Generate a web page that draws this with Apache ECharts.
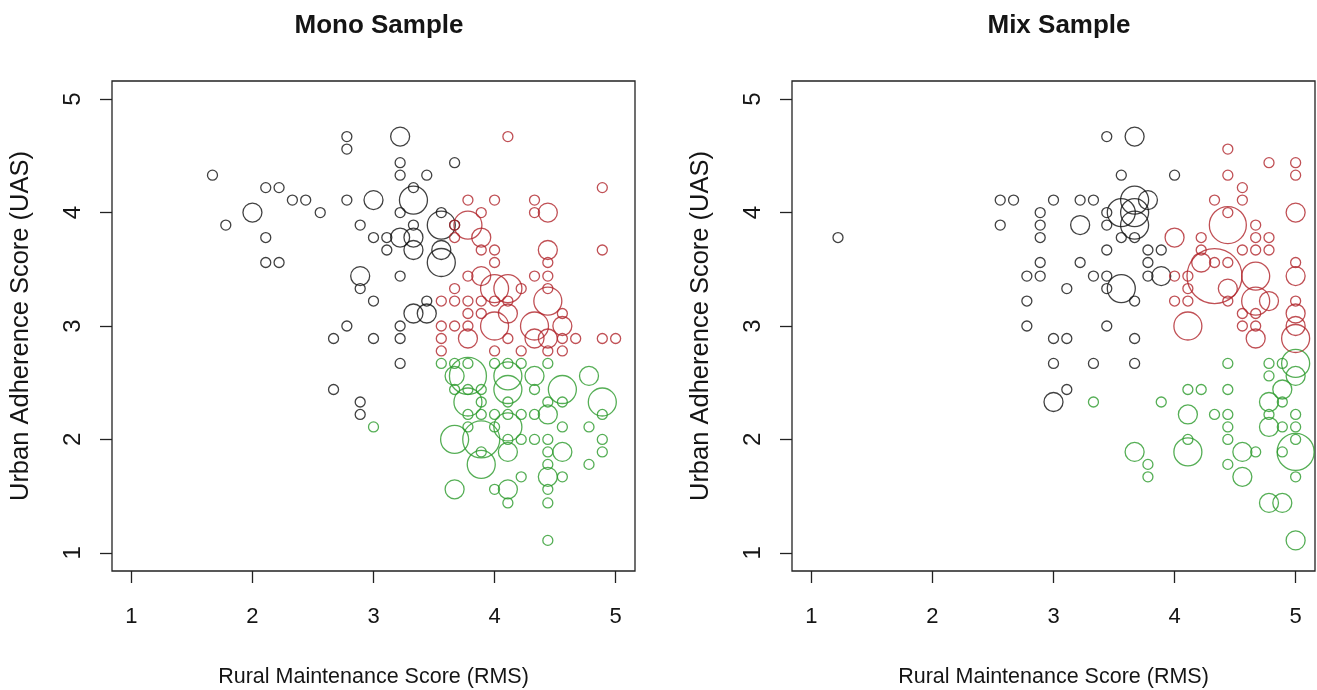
<!DOCTYPE html>
<html>
<head>
<meta charset="utf-8">
<title>Mono / Mix Sample</title>
<script src="https://cdn.jsdelivr.net/npm/echarts@6.0.0/dist/echarts.min.js"></script>
<style>
  html, body { margin: 0; padding: 0; background: #fff; }
  #chart { width: 1317px; height: 690px; }
</style>
</head>
<body>
<div id="chart"></div>
<script>
// point = [RMS, UAS, count]; count sets the circle size
const tickValues = [1, 2, 3, 4, 5];

const monoBlack = [
  [1.67,4.33,1],[1.78,3.89,1],[2.0,4.0,2],[2.11,4.22,1],[2.22,4.22,1],[2.11,3.78,1],
  [2.11,3.56,1],[2.22,3.56,1],[2.33,4.11,1],[2.44,4.11,1],[2.56,4.0,1],[2.78,4.67,1],
  [2.78,4.56,1],[2.78,4.11,1],[2.89,3.89,1],[3.0,4.11,2],[3.0,3.78,1],[2.89,3.44,2],
  [2.89,3.33,1],[3.0,3.22,1],[2.78,3.0,1],[2.67,2.89,1],[3.0,2.89,1],[2.67,2.44,1],
  [2.89,2.33,1],[2.89,2.22,1],[3.22,4.67,2],[3.22,4.44,1],[3.22,4.33,1],[3.44,4.33,1],
  [3.67,4.44,1],[3.33,4.11,3],[3.33,4.22,1],[3.22,4.0,1],[3.56,3.89,3],[3.56,4.0,1],
  [3.67,3.89,1],[3.22,3.78,2],[3.33,3.89,1],[3.33,3.78,2],[3.33,3.67,2],[3.11,3.78,1],
  [3.11,3.67,1],[3.56,3.56,3],[3.56,3.67,2],[3.22,3.44,1],[3.33,3.11,2],[3.44,3.11,2],
  [3.44,3.22,1],[3.22,3.0,1],[3.22,2.89,1],[3.22,2.67,1]
];
const monoRed = [
  [4.11,4.67,1],[4.89,4.22,1],[4.89,3.67,1],[3.78,4.11,1],[4.0,4.11,1],[4.33,4.11,1],
  [4.33,4.0,1],[4.44,4.0,2],[3.89,4.0,1],[3.78,3.89,3],[3.67,3.89,1],[3.67,3.78,1],
  [3.89,3.78,2],[3.89,3.67,1],[4.0,3.67,1],[4.0,3.56,1],[4.44,3.67,2],[4.44,3.56,1],
  [3.78,3.44,1],[3.89,3.44,2],[4.0,3.33,3],[4.11,3.33,3],[4.22,3.33,1],[4.33,3.44,1],
  [4.44,3.44,1],[4.44,3.33,1],[4.44,3.22,3],[3.67,3.33,1],[3.56,3.22,1],[3.67,3.22,1],
  [3.78,3.22,1],[3.89,3.22,1],[4.0,3.22,1],[4.11,3.22,1],[3.78,3.11,1],[3.89,3.11,1],
  [3.56,3.0,1],[3.67,3.0,1],[3.78,3.0,1],[4.0,3.0,3],[4.11,3.11,2],[4.33,3.0,3],
  [4.44,2.89,2],[4.56,3.0,2],[4.56,3.11,1],[3.56,2.89,1],[4.11,2.89,1],[4.67,2.89,1],
  [4.89,2.89,1],[5.0,2.89,1],[3.78,2.89,2],[4.33,2.89,2],[4.56,2.89,1],[3.56,2.78,1],
  [4.0,2.78,1],[4.22,2.78,1],[4.44,2.78,1],[4.56,2.78,1]
];
const monoGreen = [
  [3.0,2.11,1],[3.56,2.67,1],[3.67,2.67,1],[3.78,2.67,1],[4.0,2.67,1],[4.11,2.67,1],
  [4.22,2.67,1],[4.44,2.67,1],[3.78,2.56,4],[3.67,2.56,2],[3.67,2.44,1],[4.11,2.56,3],
  [4.11,2.44,3],[4.33,2.56,2],[4.33,2.44,1],[4.56,2.44,3],[4.78,2.56,2],[4.89,2.33,3],
  [4.89,2.22,1],[3.78,2.44,1],[3.89,2.44,1],[3.89,2.33,1],[4.11,2.33,1],[4.44,2.33,1],
  [4.56,2.33,1],[3.78,2.33,3],[3.78,2.22,1],[3.89,2.22,1],[4.0,2.22,1],[4.11,2.22,1],
  [4.22,2.22,1],[4.33,2.22,1],[4.44,2.22,2],[4.11,2.11,3],[3.67,2.0,3],[3.89,2.0,4],
  [3.78,2.11,1],[4.0,2.11,1],[4.56,2.11,1],[4.78,2.11,1],[4.11,2.0,1],[4.22,2.0,1],
  [4.33,2.0,1],[4.44,2.0,1],[4.89,2.0,1],[4.89,1.89,1],[3.89,1.89,1],[3.89,1.78,3],
  [4.11,1.89,2],[4.44,1.89,1],[4.56,1.89,2],[4.44,1.78,1],[4.78,1.78,1],[4.44,1.67,2],
  [4.22,1.67,1],[4.56,1.67,1],[3.67,1.56,2],[4.0,1.56,1],[4.11,1.56,2],[4.11,1.44,1],
  [4.44,1.56,1],[4.44,1.44,1],[4.44,1.11,1]
];

const mixBlack = [
  [1.22,3.78,1],[2.56,4.11,1],[2.67,4.11,1],[2.56,3.89,1],[2.89,4.0,1],[2.89,3.89,1],
  [2.89,3.78,1],[2.89,3.56,1],[2.89,3.44,1],[2.78,3.44,1],[2.78,3.22,1],[2.78,3.0,1],
  [3.0,4.11,1],[3.22,4.11,1],[3.33,4.11,1],[3.44,4.67,1],[3.67,4.67,2],[3.56,4.33,1],
  [4.0,4.33,1],[3.67,4.11,3],[3.78,4.11,2],[3.56,4.0,3],[3.67,3.89,3],[3.67,4.0,3],
  [3.44,4.0,1],[3.44,3.89,1],[3.56,3.78,1],[3.67,3.78,1],[3.22,3.89,2],[3.44,3.67,1],
  [3.78,3.67,1],[3.89,3.67,1],[3.78,3.56,1],[3.22,3.56,1],[3.33,3.44,1],[3.44,3.44,1],
  [3.56,3.33,3],[3.44,3.33,1],[3.67,3.22,1],[3.78,3.44,1],[3.89,3.44,2],[3.11,3.33,1],
  [3.44,3.0,1],[3.0,2.89,1],[3.11,2.89,1],[3.67,2.89,1],[3.0,2.67,1],[3.33,2.67,1],
  [3.67,2.67,1],[3.11,2.44,1],[3.0,2.33,2]
];
const mixRed = [
  [4.44,4.56,1],[4.78,4.44,1],[5.0,4.44,1],[5.0,4.33,1],[4.44,4.33,1],[4.56,4.22,1],
  [4.33,4.11,1],[4.56,4.11,1],[4.44,4.0,1],[4.44,3.89,4],[5.0,4.0,2],[4.67,3.89,1],
  [4.67,3.78,1],[4.78,3.78,1],[4.67,3.67,1],[4.78,3.67,1],[4.56,3.67,1],[4.0,3.78,2],
  [4.22,3.78,1],[4.22,3.67,1],[4.22,3.56,2],[4.33,3.56,1],[4.44,3.56,1],[4.33,3.44,6],
  [4.44,3.33,2],[4.67,3.44,3],[4.67,3.22,3],[4.78,3.22,2],[5.0,3.44,2],[5.0,3.56,1],
  [4.0,3.44,1],[4.11,3.44,1],[4.11,3.33,1],[4.11,3.22,1],[4.0,3.22,1],[4.44,3.22,1],
  [4.56,3.11,1],[4.67,3.11,1],[4.56,3.0,1],[4.67,3.0,1],[5.0,3.22,1],[5.0,3.11,2],
  [5.0,3.0,2],[4.11,3.0,3],[4.67,2.89,2],[5.0,2.89,3]
];
const mixGreen = [
  [3.33,2.33,1],[3.89,2.33,1],[4.44,2.67,1],[4.78,2.67,1],[4.89,2.67,1],[5.0,2.67,3],
  [5.0,2.56,2],[4.78,2.56,1],[4.89,2.44,2],[4.11,2.44,1],[4.22,2.44,1],[4.44,2.44,1],
  [4.78,2.33,2],[4.89,2.33,1],[4.11,2.22,2],[4.33,2.22,1],[4.44,2.22,1],[4.78,2.22,1],
  [4.78,2.11,2],[4.89,2.11,1],[5.0,2.22,1],[5.0,2.11,1],[4.44,2.11,1],[4.44,2.0,1],
  [5.0,2.0,1],[5.0,1.89,4],[4.89,1.89,1],[4.11,2.0,1],[4.11,1.89,3],[3.67,1.89,2],
  [3.78,1.78,1],[3.78,1.67,1],[4.56,1.89,2],[4.67,1.89,1],[4.44,1.78,1],[4.56,1.67,2],
  [5.0,1.67,1],[4.78,1.44,2],[4.89,1.44,2],[5.0,1.11,2]
];

const BLACK = "#111111", RED = "#b0242a", GREEN = "#2a9a2a";
const TXT = "#151515";
const axisFont = "'Liberation Sans', Arial, sans-serif";

const chart = echarts.init(document.getElementById("chart"), null, { renderer: "canvas" });

function xAxisOf(gridIndex) {
  return {
    gridIndex,
    type: "value",
    min: 0.84,
    max: 5.16,
    name: "Rural Maintenance Score (RMS)",
    nameLocation: "middle",
    nameGap: 95,
    nameTextStyle: { color: TXT, fontSize: 21.5, fontFamily: axisFont },
    axisLine: { show: false },
    axisTick: { show: true, inside: false, length: 12, customValues: tickValues,
      lineStyle: { color: "#222", width: 1.3 } },
    axisLabel: { customValues: tickValues, color: TXT, fontSize: 22, fontFamily: axisFont, margin: 35 },
    splitLine: { show: false },
  };
}

function yAxisOf(gridIndex) {
  return {
    gridIndex,
    type: "value",
    min: 0.84,
    max: 5.16,
    name: "Urban Adherence Score (UAS)",
    nameLocation: "middle",
    nameGap: 78,
    nameTextStyle: { color: TXT, fontSize: 25.5, fontFamily: axisFont },
    axisLine: { show: false },
    axisTick: { show: true, inside: false, length: 12, customValues: tickValues,
      lineStyle: { color: "#222", width: 1.3 } },
    axisLabel: { customValues: tickValues, rotate: 90, color: TXT, fontSize: 24, fontFamily: axisFont, margin: 27 },
    splitLine: { show: false },
  };
}

function bubbles(data, color, idx) {
  return {
    type: "scatter",
    xAxisIndex: idx,
    yAxisIndex: idx,
    data,
    symbol: "circle",
    symbolSize: (v) => 1 + 9 * v[2],
    itemStyle: { color: "rgba(0,0,0,0)", borderColor: color, borderWidth: 1.3 },
    emphasis: { disabled: true },
  };
}

const gridBase = {
  top: 81, width: 523, height: 490, show: true,
  borderColor: "#222", borderWidth: 1.3, backgroundColor: "transparent",
  containLabel: false, outerBoundsMode: "none",
};

const option = {
  backgroundColor: "#ffffff",
  animation: false,
  title: [
    { text: "Mono Sample", left: 374, top: 8, textAlign: "center",
      textStyle: { fontSize: 26, fontWeight: "bold", color: TXT, fontFamily: axisFont } },
    { text: "Mix Sample", left: 1054, top: 8, textAlign: "center",
      textStyle: { fontSize: 26, fontWeight: "bold", color: TXT, fontFamily: axisFont } },
  ],
  grid: [
    Object.assign({ left: 112 }, gridBase),
    Object.assign({ left: 792 }, gridBase),
  ],
  xAxis: [xAxisOf(0), xAxisOf(1)],
  yAxis: [yAxisOf(0), yAxisOf(1)],
  series: [
    bubbles(monoBlack, BLACK, 0),
    bubbles(monoRed, RED, 0),
    bubbles(monoGreen, GREEN, 0),
    bubbles(mixBlack, BLACK, 1),
    bubbles(mixRed, RED, 1),
    bubbles(mixGreen, GREEN, 1),
  ],
};

chart.setOption(option);
window.addEventListener("resize", () => chart.resize());
</script>
</body>
</html>
